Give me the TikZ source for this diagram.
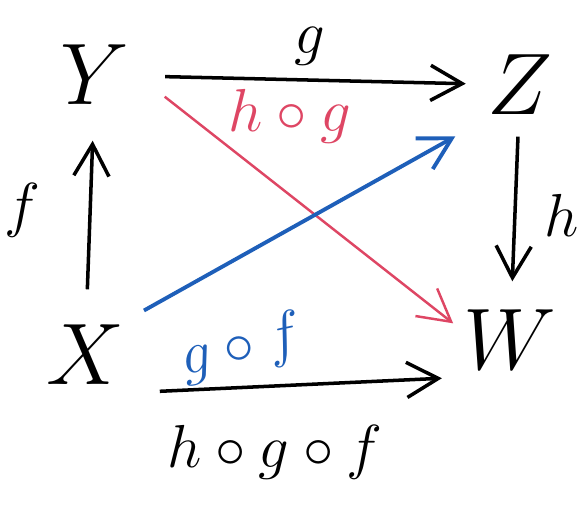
\documentclass[tikz,border=0pt]{standalone}
\usepackage{amsmath}
\usepackage{tikz}
\usetikzlibrary{arrows.meta}

\begin{document}
\begin{tikzpicture}[
        % styles
        obj/.style = {font=\fontsize{30}{32}\selectfont, inner sep=2pt},
        lbl/.style = {font=\fontsize{17}{19}\selectfont},
        arrow/.style = {-{Straight Barb[length=9pt, width=10pt]}, line width=1pt},
        pinkline/.style = {arrow, draw=pinkred, line width=0.7pt},
        blueline/.style = {arrow, draw=penblue, line width=1.1pt}
    ]
        \definecolor{pinkred}{RGB}{222,70,100}
        \definecolor{penblue}{RGB}{30,95,185}
        \useasboundingbox (0,0) rectangle (5.83,5.08);

        % 1. objects
        \node (Y) [obj] at (0.95,4.33) {$Y$};
        \node (Z) [obj] at (5.20,4.23) {$Z$};
        \node (X) [obj] at (0.85,1.53) {$X$};
        \node (W) [obj] at (5.10,1.68) {$W$};

        % 2. arrows
        \draw [arrow, shorten <=8pt, shorten >=4pt] (Y) -- (Z);
        \draw [arrow, shorten <=8pt, shorten >=8pt] (X) -- (Y);
        \draw [arrow, shorten <=4pt, shorten >=6pt] (Z) -- (W);
        \draw [arrow, shorten <=8pt, shorten >=4pt] (X.south east) -- (W.south west);
        \draw [pinkline, shorten <=10pt, shorten >=1pt] (Y.east) -- (W.165);
        \draw [blueline, shorten <=4pt, shorten >=8pt] (X.north east) -- (Z.south west);

        % 3. labels
        \node (lg)   [lbl] at (3.10,4.62) {$g$};
        \node (lf)   [lbl] at (0.22,2.98) {$f$};
        \node (lh)   [lbl] at (5.62,2.93) {$h$};
        \node (lhg)  [lbl, text=pinkred] at (2.90,3.92) {$h\circ g$};
        \node (lgf)  [lbl, text=penblue, rotate=12] at (2.42,1.60) {$g\circ f$};
        \node (lhgf) [lbl] at (2.75,0.56) {$h\circ g\circ f$};

    \end{tikzpicture}
\end{document}
